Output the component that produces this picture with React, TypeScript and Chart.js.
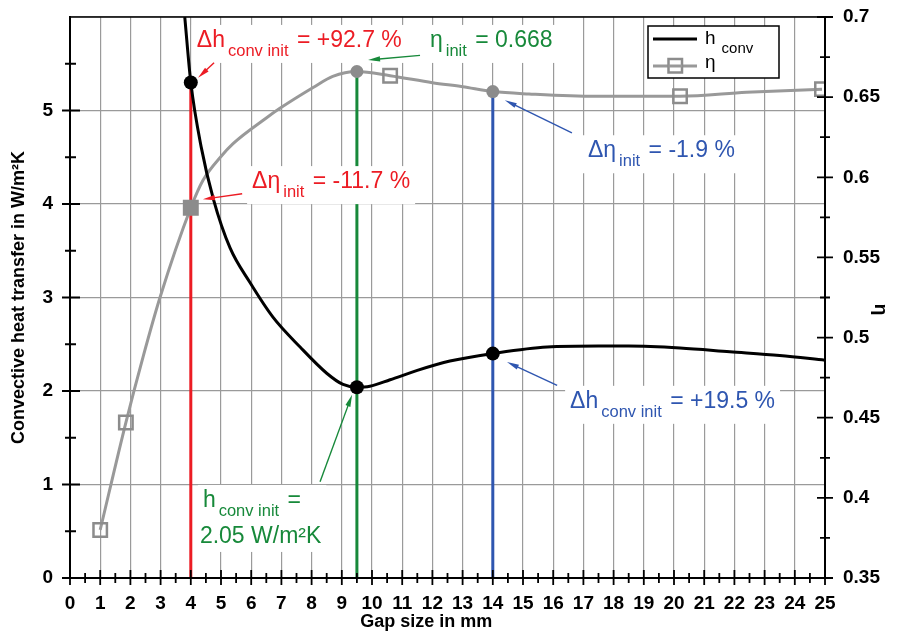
import React, { useEffect, useRef } from 'react';
import { Chart, registerables } from 'chart.js';

Chart.register(...registerables);

// ---------- data ----------
const hConvX = [3.8, 4.0, 4.35, 4.75, 5.3, 5.96, 6.72, 7.62, 8.5, 9.04, 9.5, 9.93, 10.6, 11.5, 12.58, 14, 15.8, 17.5, 18.5, 20.2, 21.85, 23.5, 25];
const hConvY = [6.0, 5.3, 4.6, 4.05, 3.53, 3.16, 2.79, 2.47, 2.19, 2.07, 2.04, 2.05, 2.12, 2.22, 2.32, 2.4, 2.47, 2.48, 2.48, 2.46, 2.42, 2.38, 2.33];

const etaX = [1, 1.85, 2.42, 2.98, 4.0, 4.4, 5.0, 5.4, 6.5, 6.95, 8.05, 8.7, 9.5, 10.6, 12.0, 13.0, 14, 15.2, 17.4, 18.5, 20.2, 22.4, 24.9];
const etaY = [0.38, 0.447, 0.488, 0.525, 0.581, 0.598, 0.613, 0.621, 0.637, 0.643, 0.656, 0.663, 0.666, 0.6634, 0.659, 0.6565, 0.6535, 0.652, 0.6505, 0.6505, 0.6505, 0.653, 0.655];

const etaMarkX = [1, 1.85, 4, 10.6, 20.2, 24.9];
const etaMarkY = [0.38, 0.447, 0.581, 0.6634, 0.6505, 0.655];

const hDotX = [4, 9.5, 14];
const hDotY = [5.3, 2.04, 2.4];

const etaDotX = [9.5, 14];
const etaDotY = [0.666, 0.6535];

const annTexts = [
  { main: 'Δh', sub: 'conv init', rest: ' = +92.7 %', line2: '' },
  { main: 'η', sub: 'init', rest: ' = 0.668', line2: '' },
  { main: 'Δη', sub: 'init', rest: ' = -11.7 %', line2: '' },
  { main: 'Δη', sub: 'init', rest: ' = -1.9 %', line2: '' },
  { main: 'Δh', sub: 'conv init', rest: ' = +19.5 %', line2: '' },
  { main: 'h', sub: 'conv init', rest: ' =', line2: '2.05 W/m²K' },
];

const legendLabels = ['h', 'conv', 'η'];
const xTitle = 'Gap size in mm';
const yTitle = 'Convective heat transfer in W/m²K';
const y1Title = 'η';

// ---------- styles / placement ----------
const RED = '#ec1c24';
const GREEN = '#17893a';
const BLUE = '#2f56b0';
const GRID = '#9a9a9a';
const GRAY_LINE = '#999999';
const GRAY_MARK = '#8c8c8c';
const FONT = '"Liberation Sans", Arial, Helvetica, sans-serif';

// anchor (left, baseline) in data units on the left axis
const annPos = [
  { x: 4.2, y: 5.68, color: RED },
  { x: 11.92, y: 5.68, color: GREEN },
  { x: 6.03, y: 4.17, color: RED },
  { x: 17.15, y: 4.5, color: BLUE },
  { x: 16.56, y: 1.82, color: BLUE },
  { x: 4.4, y: 0.76, color: GREEN },
];

const arrowPos = [
  { x1: 4.77, y1: 5.51, x2: 4.24, y2: 5.35, color: RED },
  { x1: 11.59, y1: 5.59, x2: 9.87, y2: 5.54, color: GREEN },
  { x1: 5.7, y1: 4.11, x2: 4.4, y2: 4.05, color: RED },
  { x1: 16.62, y1: 4.76, x2: 14.4, y2: 5.11, color: BLUE },
  { x1: 16.13, y1: 2.06, x2: 14.47, y2: 2.31, color: BLUE },
  { x1: 8.28, y1: 1.03, x2: 9.34, y2: 1.96, color: GREEN },
];

const MAIN_FONT = `23px ${FONT}`;
const SUB_FONT = `16.5px ${FONT}`;
const TITLE_FONT = `bold 18px ${FONT}`;

function toXY(xs: number[], ys: number[]) {
  return xs.map((x, i) => ({ x, y: ys[i] }));
}

function layoutAnn(ctx: CanvasRenderingContext2D, i: number, px: number) {
  const a = annTexts[i];
  ctx.font = MAIN_FONT;
  const w1 = ctx.measureText(a.main).width;
  ctx.font = SUB_FONT;
  const w2 = ctx.measureText(a.sub).width;
  ctx.font = MAIN_FONT;
  const w3 = ctx.measureText(a.rest).width;
  const w4 = a.line2 ? ctx.measureText(a.line2).width : 0;
  const xs = px + w1 + 3;
  const xr = xs + w2 + 2;
  return { xs, xr, end: Math.max(xr + w3, px - 3 + w4) };
}

function drawBoxes(chart: any) {
  const ctx = chart.ctx as CanvasRenderingContext2D;
  const xs = chart.scales.x;
  const ys = chart.scales.y;
  ctx.save();
  ctx.fillStyle = '#ffffff';
  annPos.forEach((p, i) => {
    const px = xs.getPixelForValue(p.x);
    const py = ys.getPixelForValue(p.y);
    const l = layoutAnn(ctx, i, px);
    const bottom = annTexts[i].line2 ? py + 36 + 9 : py + 16;
    ctx.fillRect(px - 5, py - 22, l.end - px + 10, bottom - (py - 22));
  });
  ctx.restore();
}

function drawTexts(chart: any) {
  const ctx = chart.ctx as CanvasRenderingContext2D;
  const xs = chart.scales.x;
  const ys = chart.scales.y;
  ctx.save();
  ctx.textBaseline = 'alphabetic';
  ctx.textAlign = 'left';
  annPos.forEach((p, i) => {
    const a = annTexts[i];
    const px = xs.getPixelForValue(p.x);
    const py = ys.getPixelForValue(p.y);
    const l = layoutAnn(ctx, i, px);
    ctx.fillStyle = p.color;
    ctx.font = MAIN_FONT;
    ctx.fillText(a.main, px, py);
    ctx.font = SUB_FONT;
    ctx.fillText(a.sub, l.xs, py + 9);
    ctx.font = MAIN_FONT;
    ctx.fillText(a.rest, l.xr, py);
    if (a.line2) ctx.fillText(a.line2, px - 3, py + 36);
  });
  ctx.restore();
}

function drawArrows(chart: any) {
  const ctx = chart.ctx as CanvasRenderingContext2D;
  const xs = chart.scales.x;
  const ys = chart.scales.y;
  ctx.save();
  arrowPos.forEach((a) => {
    const x1 = xs.getPixelForValue(a.x1);
    const y1 = ys.getPixelForValue(a.y1);
    const x2 = xs.getPixelForValue(a.x2);
    const y2 = ys.getPixelForValue(a.y2);
    const ang = Math.atan2(y2 - y1, x2 - x1);
    const c = Math.cos(ang);
    const s = Math.sin(ang);
    const hl = 12;
    const hw = 2.6;
    ctx.strokeStyle = a.color;
    ctx.fillStyle = a.color;
    ctx.lineWidth = 1.4;
    ctx.beginPath();
    ctx.moveTo(x1, y1);
    ctx.lineTo(x2 - c * hl * 0.7, y2 - s * hl * 0.7);
    ctx.stroke();
    ctx.beginPath();
    ctx.moveTo(x2, y2);
    ctx.lineTo(x2 - hl * c + hw * s, y2 - hl * s - hw * c);
    ctx.lineTo(x2 - hl * c - hw * s, y2 - hl * s + hw * c);
    ctx.closePath();
    ctx.fill();
  });
  ctx.restore();
}

function drawAxes(chart: any) {
  const ctx = chart.ctx as CanvasRenderingContext2D;
  const { left: L, right: R, top: T, bottom: B } = chart.chartArea;
  const xs = chart.scales.x;
  const ys = chart.scales.y;
  const y1 = chart.scales.y1;
  ctx.save();
  ctx.strokeStyle = '#000';
  ctx.lineCap = 'butt';
  ctx.lineWidth = 1.5;
  ctx.beginPath();
  ctx.moveTo(L, T);
  ctx.lineTo(R, T);
  ctx.stroke();
  ctx.lineWidth = 2;
  ctx.beginPath();
  ctx.moveTo(L, T - 1);
  ctx.lineTo(L, B);
  ctx.lineTo(R, B);
  ctx.moveTo(R, T - 1);
  ctx.lineTo(R, B);
  ctx.stroke();
  ctx.lineWidth = 1.8;
  ctx.beginPath();
  for (let k = 0; k <= 50; k++) {
    const v = k / 2;
    const p = xs.getPixelForValue(v);
    if (k % 2 === 0) {
      ctx.moveTo(p, B - 8);
      ctx.lineTo(p, B + 7);
    } else {
      ctx.moveTo(p, B - 5);
      ctx.lineTo(p, B + 5);
    }
  }
  for (let k = 0; k <= 11; k++) {
    const v = k / 2;
    const p = ys.getPixelForValue(v);
    if (k % 2 === 0) {
      ctx.moveTo(L - 8, p);
      ctx.lineTo(L + 10, p);
    } else {
      ctx.moveTo(L - 5, p);
      ctx.lineTo(L + 6, p);
    }
  }
  for (let k = 0; k <= 14; k++) {
    const v = 0.35 + k * 0.025;
    const p = y1.getPixelForValue(v);
    if (k % 2 === 0) {
      ctx.moveTo(R - 8, p);
      ctx.lineTo(R + 8, p);
    } else {
      ctx.moveTo(R - 5, p);
      ctx.lineTo(R + 5, p);
    }
  }
  ctx.stroke();

  // axis titles
  ctx.fillStyle = '#000';
  ctx.font = TITLE_FONT;
  ctx.textAlign = 'center';
  ctx.textBaseline = 'middle';
  ctx.fillText(xTitle, L + (R - L) * 0.472, B + 44);
  ctx.save();
  ctx.translate(L - 51, (T + B) / 2);
  ctx.rotate(-Math.PI / 2);
  ctx.fillText(yTitle, 0, 0);
  ctx.restore();
  ctx.save();
  ctx.translate(R + 55, (T + B) / 2 + 12);
  ctx.rotate(Math.PI / 2);
  ctx.font = `bold 19px ${FONT}`;
  ctx.fillText(y1Title, 0, 0);
  ctx.restore();
  ctx.restore();
}

function drawLegend(chart: any) {
  const ctx = chart.ctx as CanvasRenderingContext2D;
  const { right: R, top: T } = chart.chartArea;
  const bx = R - 177;
  const by = T + 9;
  ctx.save();
  ctx.fillStyle = '#fff';
  ctx.fillRect(bx, by, 131, 52);
  ctx.strokeStyle = '#000';
  ctx.lineWidth = 1.5;
  ctx.strokeRect(bx, by, 131, 52);
  ctx.lineWidth = 3;
  ctx.beginPath();
  ctx.moveTo(bx + 5, by + 13);
  ctx.lineTo(bx + 49, by + 13);
  ctx.stroke();
  ctx.strokeStyle = GRAY_LINE;
  ctx.beginPath();
  ctx.moveTo(bx + 5, by + 40);
  ctx.lineTo(bx + 49, by + 40);
  ctx.stroke();
  ctx.strokeStyle = GRAY_MARK;
  ctx.lineWidth = 2.5;
  ctx.fillStyle = '#fff';
  ctx.fillRect(bx + 20.5, by + 33, 13.5, 13.5);
  ctx.strokeRect(bx + 20.5, by + 33, 13.5, 13.5);
  ctx.beginPath();
  ctx.moveTo(bx + 20.5, by + 40);
  ctx.lineTo(bx + 34, by + 40);
  ctx.strokeStyle = GRAY_LINE;
  ctx.lineWidth = 3;
  ctx.stroke();
  ctx.fillStyle = '#000';
  ctx.textAlign = 'left';
  ctx.textBaseline = 'alphabetic';
  ctx.font = `19px ${FONT}`;
  const hw = ctx.measureText(legendLabels[0]).width;
  ctx.fillText(legendLabels[0], bx + 57, by + 18);
  ctx.fillText(legendLabels[2], bx + 57, by + 42);
  ctx.font = `15px ${FONT}`;
  ctx.fillText(legendLabels[1], bx + 57 + hw + 6, by + 27);
  ctx.restore();
}

export default function App() {
  const ref = useRef<HTMLCanvasElement>(null);

  useEffect(() => {
    const canvas = ref.current;
    if (!canvas) return;
    const tickFont = { family: FONT, size: 19, weight: 'bold' as const };

    const overlay = {
      id: 'overlay',
      beforeDatasetDraw(chart: any, args: any) {
        if (args.index === 4) drawBoxes(chart);
      },
      afterDatasetsDraw(chart: any) {
        drawArrows(chart);
        drawTexts(chart);
      },
      afterDraw(chart: any) {
        drawAxes(chart);
        drawLegend(chart);
      },
    };

    const noPad = (s: any) => {
      s.paddingTop = 0;
      s.paddingBottom = 0;
      s.paddingLeft = 0;
      s.paddingRight = 0;
    };

    const chart = new Chart(canvas, {
      type: 'line',
      data: {
        datasets: [
          {
            label: 'hDots',
            data: toXY(hDotX, hDotY),
            yAxisID: 'y',
            showLine: false,
            pointRadius: 7,
            pointBackgroundColor: '#000',
            pointBorderColor: '#000',
            pointBorderWidth: 0,
          },
          {
            label: 'etaDots',
            data: toXY(etaDotX, etaDotY),
            yAxisID: 'y1',
            showLine: false,
            pointRadius: 6.5,
            pointBackgroundColor: GRAY_MARK,
            pointBorderColor: GRAY_MARK,
            pointBorderWidth: 0,
          },
          {
            label: 'etaMarks',
            data: toXY(etaMarkX, etaMarkY),
            yAxisID: 'y1',
            showLine: false,
            pointStyle: 'rect',
            pointRadius: 9.5,
            pointBorderColor: GRAY_MARK,
            pointBorderWidth: 2.5,
            pointBackgroundColor: etaMarkX.map((x) => (x === 4 ? GRAY_MARK : 'rgba(255,255,255,0)')),
          },
          {
            label: 'h_conv',
            data: toXY(hConvX, hConvY),
            yAxisID: 'y',
            borderColor: '#000',
            borderWidth: 3,
            pointRadius: 0,
            cubicInterpolationMode: 'monotone',
          },
          {
            label: 'eta',
            data: toXY(etaX, etaY),
            yAxisID: 'y1',
            borderColor: GRAY_LINE,
            borderWidth: 3,
            pointRadius: 0,
            cubicInterpolationMode: 'monotone',
          },
          {
            label: 'redLine',
            data: [{ x: hDotX[0], y: 0 }, { x: hDotX[0], y: hDotY[0] }],
            yAxisID: 'y',
            borderColor: RED,
            borderWidth: 3,
            pointRadius: 0,
            tension: 0,
          },
          {
            label: 'greenLine',
            data: [{ x: etaDotX[0], y: 0.35 }, { x: etaDotX[0], y: etaDotY[0] }],
            yAxisID: 'y1',
            borderColor: GREEN,
            borderWidth: 3,
            pointRadius: 0,
            tension: 0,
          },
          {
            label: 'blueLine',
            data: [{ x: etaDotX[1], y: 0.35 }, { x: etaDotX[1], y: etaDotY[1] }],
            yAxisID: 'y1',
            borderColor: BLUE,
            borderWidth: 3,
            pointRadius: 0,
            tension: 0,
          },
        ],
      },
      options: {
        animation: false,
        responsive: false,
        events: [],
        layout: { padding: { top: 17, left: 0, right: 0, bottom: 0 } },
        plugins: {
          legend: { display: false },
          tooltip: { enabled: false },
        },
        scales: {
          x: {
            type: 'linear',
            min: 0,
            max: 25,
            ticks: {
              stepSize: 1,
              autoSkip: false,
              maxRotation: 0,
              padding: 14,
              color: '#000',
              font: tickFont,
            },
            grid: { color: GRID, lineWidth: 1.2, drawTicks: false },
            border: { display: false },
            afterFit: (s: any) => {
              s.height = 55;
              noPad(s);
            },
          },
          y: {
            type: 'linear',
            position: 'left',
            min: 0,
            max: 6,
            ticks: {
              stepSize: 1,
              padding: 17,
              color: '#000',
              font: tickFont,
              callback: (v: any) => (Number(v) >= 6 ? '' : String(v)),
            },
            grid: { color: GRID, lineWidth: 1.2, drawTicks: false },
            border: { display: false },
            afterFit: (s: any) => {
              s.width = 70;
              noPad(s);
            },
          },
          y1: {
            type: 'linear',
            position: 'right',
            min: 0.35,
            max: 0.7,
            ticks: {
              stepSize: 0.05,
              padding: 18,
              color: '#000',
              font: tickFont,
              callback: (v: any) => String(Number(Number(v).toFixed(2))),
            },
            grid: { drawOnChartArea: false, drawTicks: false },
            border: { display: false },
            afterFit: (s: any) => {
              s.width = 78;
              noPad(s);
            },
          },
        },
      },
      plugins: [overlay],
    } as any);

    return () => {
      chart.destroy();
    };
  }, []);

  return (
    <div style={{ position: 'absolute', left: 0, top: 0, width: 903, height: 633, background: '#fff' }}>
      <canvas ref={ref} width={903} height={633} style={{ display: 'block' }} />
    </div>
  );
}
